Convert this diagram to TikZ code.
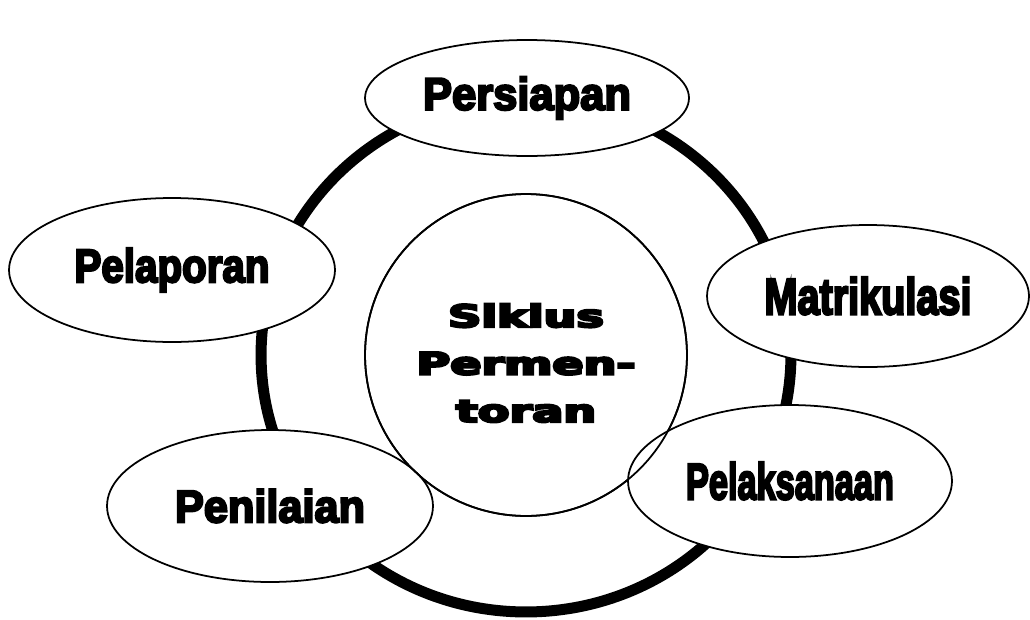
\documentclass[tikz,border=0pt]{standalone}
\usepackage{fontspec}
\usepackage{graphicx}
\newfontfamily\heavyfont[FakeBold=5]{Liberation Sans Bold}
\newfontfamily\widefont[FakeBold=7]{DejaVu Sans Bold}
\usetikzlibrary{shapes.geometric}
\newcommand{\steplabel}[3]{\resizebox{#1}{#2}{\heavyfont #3}}

\begin{document}
\begin{tikzpicture}[x=0.02cm, y=-0.02cm,
    stage/.style={draw, ellipse, fill=white, line width=1pt, inner sep=0pt},
    ring/.style={line width=0.22cm}]
    \useasboundingbox (0,0) rectangle (1030,619);

    % Ring behind everything
    \coordinate (mid) at (526,355);
    \draw[ring] (mid) ellipse [x radius=5.3cm, y radius=5.14cm];

    % Centre circle
    \node[circle, draw, fill=white, line width=1pt, minimum size=6.44cm,
          font=\widefont\fontsize{17.5}{27}\selectfont] (core) at (mid)
          {\raisebox{-0.2cm}[\height][\depth]{\scalebox{1.5}[1]{\begin{tabular}{@{}c@{}}Siklus\\Permen-\\toran\end{tabular}}}};

    % Stages round the ring
    \node[stage, minimum width=6.48cm, minimum height=2.32cm] (persiapan) at (527,98) {\steplabel{4.16cm}{0.66cm}{Persiapan}};
    \node[stage, minimum width=6.44cm, minimum height=2.84cm] (matrikulasi) at (868,296) {\steplabel{4.14cm}{0.74cm}{Matrikulasi}};
    \node[stage, minimum width=6.48cm, minimum height=3.04cm] (pelaksanaan) at (790,481) {\steplabel{4.16cm}{0.74cm}{Pelaksanaan}};
    \node[stage, minimum width=6.52cm, minimum height=3.04cm] (penilaian) at (270,506) {\raisebox{-0.12cm}{\steplabel{3.8cm}{0.66cm}{Penilaian}}};
    \node[stage, minimum width=6.52cm, minimum height=2.88cm] (pelaporan) at (172,270) {\raisebox{-0.1cm}{\steplabel{3.9cm}{0.68cm}{Pelaporan}}};

    % centre outline again, over the overlapping stages
    \draw[line width=1pt] (core.center) circle [radius=3.22cm];

\end{tikzpicture}
\end{document}
